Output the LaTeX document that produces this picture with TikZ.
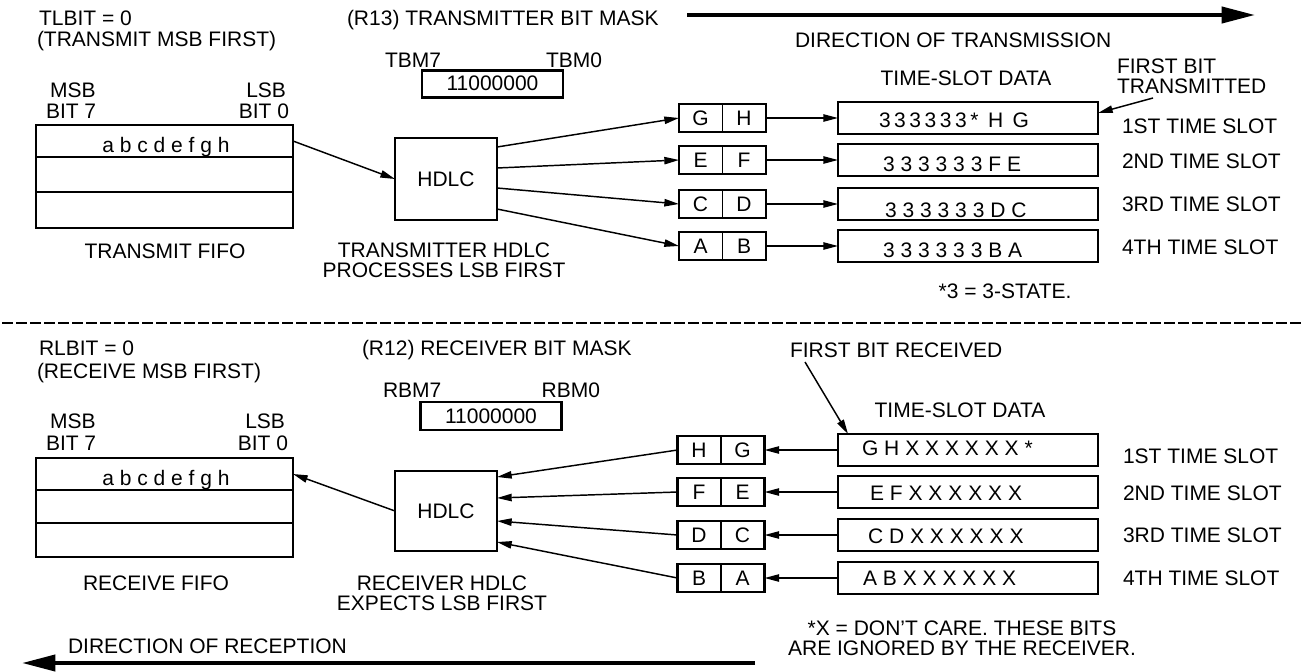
\documentclass[tikz,border=0pt]{standalone}
\usepackage{fontspec}
\setmainfont{Liberation Sans}
\usetikzlibrary{arrows.meta,calc}
\newcommand{\mainfnt}{\fontsize{15.75pt}{15pt}\selectfont}
\begin{document}
\begin{tikzpicture}[x=0.75pt,y=-0.75pt,
  every node/.style={inner sep=0pt,outer sep=0pt,font=\mainfnt},
  box/.style={draw,line width=1.8pt},
  rowline/.style={line width=1.3pt},
  conn/.style={line width=1.1pt,-{Triangle[length=11pt,width=5.5pt]}},
  bigarrow/.style={line width=3pt,-{Triangle[length=25pt,width=12pt]}},
  lbox/.style={box,minimum width=65.25pt,minimum height=21pt},
  sbox/.style={box,minimum width=195pt,minimum height=24pt},
  hbox/.style={box,minimum width=76.5pt,minimum height=60pt},
  mbox/.style={box,minimum width=105.75pt,minimum height=20pt},
  spaced/.style={font=\mainfnt\addfontfeatures{LetterSpace=28}},
  lbl/.style={anchor=base west},
]
\useasboundingbox (0,0) rectangle (1301,671);

% ================= TOP (TRANSMIT) =================
\node[lbl] (tlbit) at (39,25) {TLBIT = 0};
\node[lbl] (tmsbf) at (37,46) {(TRANSMIT MSB FIRST)};
\node[lbl] (r13) at (347,25) {(R13) TRANSMITTER BIT MASK};
\coordinate (ta1) at (687,15);
\coordinate (ta2) at (1255,15);
\draw[bigarrow] (ta1) -- (ta2);
\node[lbl] (dot) at (795,47) {DIRECTION OF TRANSMISSION};

\node[lbl] (tbm7) at (385,67) {TBM7};
\node[anchor=base east] (tbm0) at (602,67) {TBM0};
\node[mbox] (tmask) at (492.5,84) {};
\node[anchor=base] (tmaskt) at (492.5,90) {11000000};

% FIFO
\node[anchor=base] (tmsb) at (73,97) {MSB};
\node[lbl] (tbit7) at (46,118) {BIT 7};
\node[anchor=base east] (tlsb) at (286,97) {LSB};
\node[anchor=base east] (tbit0) at (289,118) {BIT 0};
\node[box,minimum width=192.75pt,minimum height=77.25pt] (tfifo) at (164.5,176.5) {};
\draw[rowline] ($(tfifo.north west)+(0,32)$) -- ($(tfifo.north east)+(0,32)$);
\draw[rowline] ($(tfifo.north west)+(0,67)$) -- ($(tfifo.north east)+(0,67)$);
\node[anchor=base] (tabc) at (166,152) {a b c d e f g h};
\node[anchor=base] (tfifol) at (165,258) {TRANSMIT FIFO};

% HDLC
\node[hbox,minimum height=61.5pt] (thdlc) at (446,179) {HDLC};
\node[anchor=base,align=center] (thdlcl) at (444,277) {TRANSMITTER HDLC\\PROCESSES LSB FIRST};
\draw[conn] ($(tfifo.north east)+(0,16)$) -- (thdlc.west);

% letter boxes
\foreach \n/\y/\a/\b in {1/118/G/H,2/160/E/F,3/204/C/D,4/246/A/B}{
  \node[lbox] (tl\n) at (722.5,\y) {};
  \draw[rowline] (tl\n.north) -- (tl\n.south);
  \node (tl\n a) at ($(tl\n.center)+(-22,0)$) {\a};
  \node (tl\n b) at ($(tl\n.center)+(21.5,0)$) {\b};
  \node[sbox] (ts\n) at (968,\y) {};
  \draw[conn] (tl\n.east) -- (ts\n.west);
}
\draw[conn] ([yshift=24pt]thdlc.east) -- (tl1.west);
\draw[conn] ([yshift=8.25pt]thdlc.east) -- (tl2.west);
\draw[conn] ([yshift=-6.75pt]thdlc.east) -- (tl3.west);
\draw[conn] ([yshift=-22.5pt]thdlc.east) -- (tl4.west);

\node[anchor=base west,font=\mainfnt\addfontfeatures{LetterSpace=17}] (ts1t) at (879,127) {333333* H G};
\node[anchor=base west,spaced] (ts2t) at (883,171) {333333FE};
\node[anchor=base west,spaced] (ts3t) at (885,217) {333333DC};
\node[anchor=base west,spaced] (ts4t) at (883,257) {333333BA};

\node[anchor=base] (ttsd) at (966,85) {TIME-SLOT DATA};
\node[anchor=base west,align=left] (tfbt) at (1117,93) {FIRST BIT\\TRANSMITTED};
\coordinate (tfbs) at (1153,98);
\draw[conn] (tfbs) -- ([yshift=3.75pt]ts1.east);

\node[lbl] (tslot1) at (1122,133) {1ST TIME SLOT};
\node[lbl] (tslot2) at (1122,168) {2ND TIME SLOT};
\node[lbl] (tslot3) at (1122,211) {3RD TIME SLOT};
\node[lbl] (tslot4) at (1122,254) {4TH TIME SLOT};
\node[anchor=base] (tnote) at (1005,298) {*3 = 3-STATE.};

% ================= DIVIDER =================
\coordinate (dl) at (2,323);
\coordinate (dr) at (1301,323);
\draw[line width=2pt,dash pattern=on 8pt off 2.5pt] (dl) -- (dr);

% ================= BOTTOM (RECEIVE) =================
\node[lbl] (rlbit) at (39,355) {RLBIT = 0};
\node[lbl] (rmsbf) at (37,378) {(RECEIVE MSB FIRST)};
\node[lbl] (r12) at (362,355) {(R12) RECEIVER BIT MASK};
\node[lbl] (frb) at (790,357) {FIRST BIT RECEIVED};

\node[lbl] (rbm7) at (383,397) {RBM7};
\node[anchor=base east] (rbm0) at (600,397) {RBM0};
\node[mbox,minimum height=21pt] (rmask) at (491,416) {};
\node[anchor=base] (rmaskt) at (491,423) {11000000};

\node[anchor=base] (rmsb) at (73,428) {MSB};
\node[lbl] (rbit7) at (46,450) {BIT 7};
\node[anchor=base east] (rlsb) at (285,428) {LSB};
\node[anchor=base east] (rbit0) at (288,450) {BIT 0};
\node[box,minimum width=192.75pt,minimum height=74.25pt] (rfifo) at (164.5,507.5) {};
\draw[rowline] ($(rfifo.north west)+(0,32)$) -- ($(rfifo.north east)+(0,32)$);
\draw[rowline] ($(rfifo.north west)+(0,65)$) -- ($(rfifo.north east)+(0,65)$);
\node[anchor=base] (rabc) at (166,485) {a b c d e f g h};
\node[anchor=base] (rfifol) at (156,590) {RECEIVE FIFO};

\node[hbox] (rhdlc) at (446,511) {HDLC};
\node[anchor=base,align=center] (rhdlcl) at (442,610) {RECEIVER HDLC\\EXPECTS LSB FIRST};
\draw[conn] (rhdlc.west) -- ($(rfifo.north east)+(0,16)$);

\foreach \n/\y/\a/\b in {1/450/H/G,2/492/F/E,3/535/D/C,4/578/B/A}{
  \node[lbox] (rl\n) at (721,\y) {};
  \draw[rowline] (rl\n.north) -- (rl\n.south);
  \node (rl\n a) at ($(rl\n.center)+(-22,0)$) {\a};
  \node (rl\n b) at ($(rl\n.center)+(21.5,0)$) {\b};
  \node[sbox] (rs\n) at (968,\y) {};
  \draw[conn] (rs\n.west) -- (rl\n.east);
}
\draw[conn] (rl1.west) -- ([yshift=25.5pt]rhdlc.east);
\draw[conn] (rl2.west) -- ([yshift=9.75pt]rhdlc.east);
\draw[conn] (rl3.west) -- ([yshift=-7.5pt]rhdlc.east);
\draw[conn] (rl4.west) -- ([yshift=-23.25pt]rhdlc.east);

\node[anchor=base west,spaced] (rs1t) at (862,455) {GHXXXXXX*};
\node[anchor=base west,spaced] (rs2t) at (870,500) {EFXXXXXX};
\node[anchor=base west,spaced] (rs3t) at (868,543) {CDXXXXXX};
\node[anchor=base west,spaced] (rs4t) at (863,585) {ABXXXXXX};

\node[anchor=base] (rtsd) at (960,417) {TIME-SLOT DATA};
\coordinate (frbs) at (805,362);
\draw[conn] (frbs) -- ([xshift=7.5pt]rs1.north west);

\node[lbl] (rslot1) at (1123,463) {1ST TIME SLOT};
\node[lbl] (rslot2) at (1123,500) {2ND TIME SLOT};
\node[lbl] (rslot3) at (1123,542) {3RD TIME SLOT};
\node[lbl] (rslot4) at (1123,585) {4TH TIME SLOT};
\node[anchor=base,align=center] (rnote) at (962,655) {*X = DON'T CARE. THESE BITS\\ARE IGNORED BY THE RECEIVER.};

\node[lbl] (dor) at (68,653) {DIRECTION OF RECEPTION};
\coordinate (ba1) at (755,663);
\coordinate (ba2) at (22,663);
\draw[bigarrow] (ba1) -- (ba2);
\end{tikzpicture}
\end{document}
